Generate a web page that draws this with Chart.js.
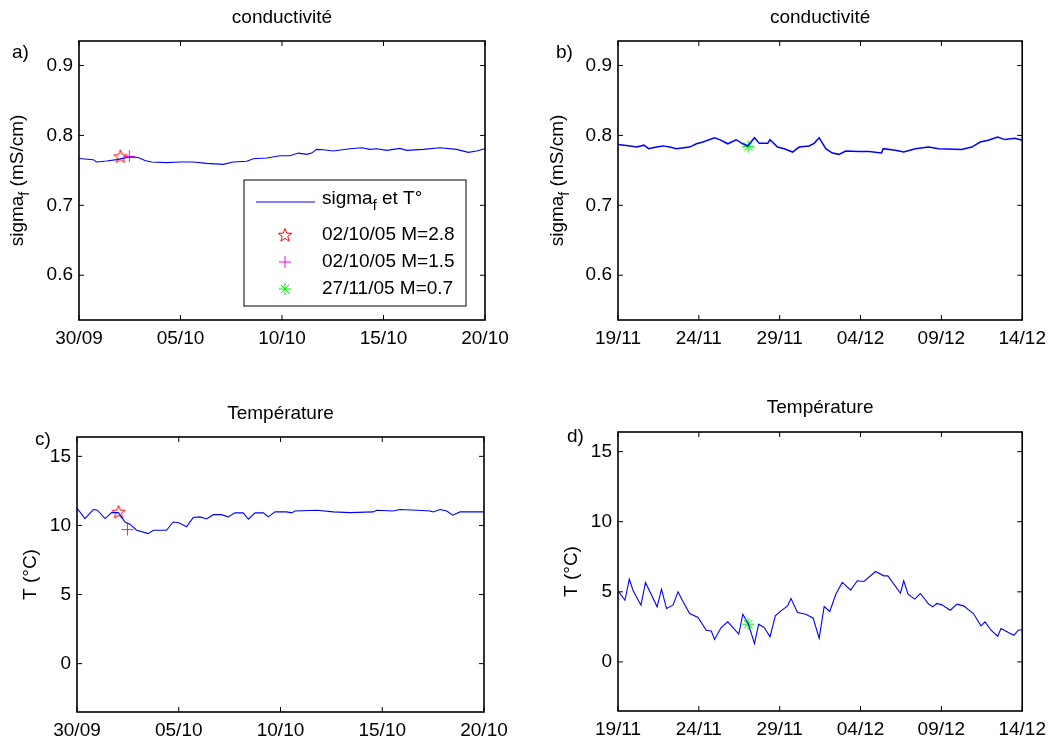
<!DOCTYPE html>
<html lang="fr">
<head>
<meta charset="UTF-8">
<title>conductivité et température</title>
<script src="https://cdn.jsdelivr.net/npm/chart.js"></script>
<style>
  body { margin: 0; background: #fff; }
  #wrap { position: relative; width: 1053px; height: 745px; }
  #wrap canvas { position: absolute; left: 0; top: 0; }
</style>
</head>
<body>
<div id="wrap">
  <canvas id="cA" width="1053" height="745"></canvas>
  <canvas id="cB" width="1053" height="745"></canvas>
  <canvas id="cC" width="1053" height="745"></canvas>
  <canvas id="cD" width="1053" height="745"></canvas>
</div>
<script>
// ---- data (x = days since first tick) ----
const octTickDays = [0, 5, 10, 15, 20];
const octTickLabels = ['30/09', '05/10', '10/10', '15/10', '20/10'];
const novTickDays = [0, 5, 10, 15, 20, 25];
const novTickLabels = ['19/11', '24/11', '29/11', '04/12', '09/12', '14/12'];
const condTicks = [0.6, 0.7, 0.8, 0.9];
const tempTicks = [0, 5, 10, 15];

const condOctDays = [0, 0.7, 0.87, 1.36, 1.86, 2.51, 2.92, 3.25, 3.58, 4.32, 4.98, 5.63, 6.29, 7.11, 7.6, 8.26, 8.59, 9.25, 9.9, 10.39, 10.8, 11.22, 11.46, 11.71, 12.04, 12.53, 13.35, 13.93, 14.33, 14.67, 15.16, 15.81, 16.14, 16.96, 17.78, 18.6, 19.18, 19.59, 20];
const condOct = [0.767, 0.7653, 0.762, 0.7633, 0.7653, 0.769, 0.7683, 0.764, 0.762, 0.761, 0.762, 0.762, 0.760, 0.7586, 0.762, 0.763, 0.7667, 0.7676, 0.771, 0.771, 0.7747, 0.7729, 0.7747, 0.780, 0.7795, 0.7776, 0.781, 0.7824, 0.780, 0.781, 0.7786, 0.7814, 0.7786, 0.780, 0.7824, 0.780, 0.7757, 0.7776, 0.781];

const tempOctDays = [0, 0.39, 0.8, 1.0, 1.38, 1.7, 2.03, 2.36, 2.6, 2.93, 3.5, 3.75, 4.4, 4.73, 5.0, 5.38, 5.71, 6.04, 6.37, 6.7, 7.1, 7.43, 7.76, 8.17, 8.42, 8.75, 9.16, 9.4, 9.73, 10.3, 10.55, 10.71, 11.78, 12.6, 13.4, 14.56, 14.72, 15.54, 15.87, 16.7, 17.35, 17.5, 17.84, 18.17, 18.46, 18.82, 20];
const tempOct = [11.26, 10.5, 11.15, 11.1, 10.5, 10.93, 10.93, 10.25, 10.09, 9.65, 9.41, 9.65, 9.65, 10.25, 10.2, 9.9, 10.57, 10.62, 10.47, 10.78, 10.78, 10.62, 10.91, 10.91, 10.45, 10.91, 10.91, 10.62, 10.98, 10.98, 10.91, 11.05, 11.1, 10.98, 10.93, 10.98, 11.1, 11.05, 11.15, 11.1, 11.05, 10.98, 11.15, 11.05, 10.74, 10.98, 10.98];

const condNovDays = [0, 0.74, 1.15, 1.6, 1.9, 2.38, 2.8, 3.2, 3.6, 4.43, 4.85, 5.25, 5.97, 6.28, 6.79, 7.31, 7.72, 8.02, 8.44, 8.74, 9.26, 9.4, 9.87, 10.28, 10.8, 11.2, 11.82, 12.13, 12.44, 12.85, 13.26, 13.67, 14.08, 14.9, 15.52, 16.3, 16.4, 17.16, 17.67, 18.39, 19.21, 19.83, 21.26, 21.88, 22.4, 22.9, 23.48, 23.93, 24.55, 25];
const condNov = [0.787, 0.7848, 0.7833, 0.786, 0.781, 0.7833, 0.785, 0.7833, 0.781, 0.7833, 0.788, 0.7905, 0.7967, 0.794, 0.788, 0.7938, 0.788, 0.7848, 0.7967, 0.7886, 0.7886, 0.794, 0.7833, 0.781, 0.7762, 0.7833, 0.7848, 0.7886, 0.7967, 0.781, 0.7748, 0.7729, 0.7776, 0.777, 0.777, 0.775, 0.781, 0.7786, 0.7762, 0.781, 0.7833, 0.781, 0.780, 0.7833, 0.7905, 0.793, 0.7976, 0.794, 0.796, 0.793];

const tempNovDays = [0, 0.43, 0.7, 0.94, 1.42, 1.7, 2.42, 2.69, 3.0, 3.4, 3.71, 4.02, 4.43, 4.95, 5.46, 5.77, 5.97, 6.38, 6.79, 7.47, 7.72, 8.07, 8.44, 8.7, 9.05, 9.4, 9.73, 10.08, 10.49, 10.7, 11.1, 11.62, 12.07, 12.44, 12.75, 13.1, 13.47, 13.87, 14.39, 14.8, 15.21, 15.93, 16.44, 16.69, 17.47, 17.67, 17.94, 18.35, 18.7, 19.21, 19.46, 19.72, 20.03, 20.55, 20.96, 21.37, 21.98, 22.45, 22.7, 23.07, 23.48, 23.69, 24.14, 24.49, 24.75, 25];
const tempNov = [5.07, 4.4, 5.9, 5.07, 4.05, 5.67, 3.93, 5.19, 3.81, 4.05, 5.0, 4.31, 3.45, 3.17, 2.26, 2.21, 1.6, 2.45, 2.86, 1.98, 3.4, 2.69, 1.31, 2.69, 2.45, 1.79, 3.29, 3.64, 4.0, 4.52, 3.52, 3.4, 3.12, 1.69, 3.95, 3.6, 4.83, 5.67, 5.12, 5.79, 5.74, 6.45, 6.14, 6.14, 4.9, 5.79, 4.83, 4.48, 4.88, 4.12, 3.93, 4.17, 4.07, 3.69, 4.12, 4.0, 3.45, 2.57, 2.86, 2.26, 1.83, 2.38, 2.1, 1.9, 2.26, 2.29];

// séismes: 02/10/05 M=2.8, 02/10/05 M=1.5, 27/11/05 M=0.7
const eventLabels = ['02/10/05 M=2.8', '02/10/05 M=1.5', '27/11/05 M=0.7'];
const eventDays = [2.04, 2.48, 8.05];
const eventCond = [0.770, 0.770, 0.784];
const eventTemp = [10.97, 9.70, 2.69];

// ---- styles ----
const FONT = "'Liberation Sans', Arial, Helvetica, sans-serif";
const FS = 19;
const BLUE = '#0000ff';
Chart.defaults.font.family = FONT;
Chart.defaults.font.size = FS;
Chart.defaults.color = '#000';
Chart.defaults.animation = false;

// red pentagram marker
function makePentagram() {
    const c = document.createElement('canvas');
    c.width = 16; c.height = 16;
    const g = c.getContext('2d');
    g.strokeStyle = '#ff0000';
    g.lineWidth = 1;
    g.beginPath();
    for (let i = 0; i < 10; i++) {
        const r = i % 2 === 0 ? 7 : 2.9;
        const a = -Math.PI / 2 + i * Math.PI / 5;
        const px = 8 + r * Math.cos(a), py = 8.5 + r * Math.sin(a);
        if (i === 0) g.moveTo(px, py); else g.lineTo(px, py);
    }
    g.closePath();
    g.stroke();
    return c;
}
const pentagram = makePentagram();

const markerStyles = [
    { pointStyle: pentagram, color: '#ff0000', radius: 7 },
    { pointStyle: 'cross', color: '#ff00ff', radius: 6 },
    { pointStyle: 'star', color: '#00ee00', radius: 6 }
];

function drawParts(ctx, x, y, parts) {
    let cx = x;
    parts.forEach(p => {
        ctx.font = (p.sub ? FS * 0.75 : FS) + 'px ' + FONT;
        ctx.fillText(p.t, cx, y + (p.sub ? 7 : 0));
        cx += ctx.measureText(p.t).width;
    });
    return cx - x;
}
function partsWidth(ctx, parts) {
    let w = 0;
    parts.forEach(p => {
        ctx.font = (p.sub ? FS * 0.75 : FS) + 'px ' + FONT;
        w += ctx.measureText(p.t).width;
    });
    return w;
}

function drawMarker(ctx, style, x, y) {
    ctx.save();
    ctx.strokeStyle = style.color;
    ctx.lineWidth = 1;
    if (style.pointStyle === pentagram) {
        ctx.drawImage(pentagram, x - 8, y - 8);
    } else {
        const r = style.radius;
        ctx.beginPath();
        ctx.moveTo(x - r, y); ctx.lineTo(x + r, y);
        ctx.moveTo(x, y - r); ctx.lineTo(x, y + r);
        if (style.pointStyle === 'star') {
            const d = r * 0.707;
            ctx.moveTo(x - d, y - d); ctx.lineTo(x + d, y + d);
            ctx.moveTo(x - d, y + d); ctx.lineTo(x + d, y - d);
        }
        ctx.stroke();
    }
    ctx.restore();
}

const sigmaParts = [{ t: 'sigma' }, { t: 'f', sub: true }, { t: ' (mS/cm)' }];
const tempParts = [{ t: 'T (°C)' }];

// box, inward ticks, panel letter, y title, legend
const matlabFrame = {
    id: 'matlabFrame',
    afterDraw(chart, args, opts) {
        const { ctx, chartArea: a, scales } = chart;
        ctx.save();
        ctx.strokeStyle = '#000';
        ctx.lineWidth = 1;
        scales.x.ticks.forEach(t => {
            const px = scales.x.getPixelForValue(t.value);
            ctx.beginPath();
            ctx.moveTo(px, a.bottom); ctx.lineTo(px, a.bottom - 5);
            ctx.moveTo(px, a.top); ctx.lineTo(px, a.top + 5);
            ctx.stroke();
        });
        scales.y.ticks.forEach(t => {
            const py = scales.y.getPixelForValue(t.value);
            ctx.beginPath();
            ctx.moveTo(a.left, py); ctx.lineTo(a.left + 5, py);
            ctx.moveTo(a.right, py); ctx.lineTo(a.right - 5, py);
            ctx.stroke();
        });
        ctx.lineWidth = 1.6;
        ctx.strokeRect(a.left, a.top, a.width, a.height);

        ctx.fillStyle = '#000';
        ctx.textBaseline = 'middle';
        ctx.textAlign = 'left';
        ctx.font = FS + 'px ' + FONT;
        ctx.fillText(opts.letter, opts.letterX, opts.letterY);

        // rotated y title
        ctx.save();
        ctx.translate(opts.yTitleX, (a.top + a.bottom) / 2);
        ctx.rotate(-Math.PI / 2);
        const w = partsWidth(ctx, opts.yTitle);
        drawParts(ctx, -w / 2, 0, opts.yTitle);
        ctx.restore();

        if (opts.legend) {
            const L = opts.legend;
            ctx.lineWidth = 1;
            ctx.strokeStyle = '#000';
            ctx.fillStyle = '#fff';
            ctx.fillRect(L.x, L.y, L.w, L.h);
            ctx.strokeRect(L.x, L.y, L.w, L.h);
            ctx.fillStyle = '#000';
            ctx.strokeStyle = BLUE;
            ctx.beginPath();
            ctx.moveTo(L.x + 12, L.y + 22); ctx.lineTo(L.x + 71, L.y + 22);
            ctx.stroke();
            drawParts(ctx, L.x + 78, L.y + 19, [{ t: 'sigma' }, { t: 'f', sub: true }, { t: ' et T°' }]);
            eventLabels.forEach((lab, i) => {
                const ry = L.y + 55 + i * 27;
                drawMarker(ctx, markerStyles[i], L.x + 41, ry);
                ctx.fillStyle = '#000';
                ctx.font = FS + 'px ' + FONT;
                ctx.fillText(lab, L.x + 78, ry);
            });
        }
        ctx.restore();
    }
};

function series(days, vals) {
    return days.map((d, i) => ({ x: d, y: vals[i] }));
}

function makePanel(canvasId, cfg) {
    const W = 1053, H = 745, yW = 70, xH = 40, titleH = FS * 1.2;
    const datasets = [{
        data: series(cfg.days, cfg.vals),
        showLine: true,
        borderColor: BLUE,
        borderWidth: cfg.lineWidth || 1.1,
        pointRadius: 0,
        tension: 0
    }];
    cfg.events.forEach(i => {
        const ms = markerStyles[i];
        datasets.push({
            data: [{ x: eventDays[i], y: cfg.eventVals[i] }],
            pointStyle: ms.pointStyle,
            pointRadius: ms.radius,
            borderColor: ms.color,
            backgroundColor: 'rgba(0,0,0,0)',
            borderWidth: 1
        });
    });
    return new Chart(document.getElementById(canvasId), {
        type: 'scatter',
        data: { datasets },
        options: {
            responsive: false,
            layout: {
                padding: {
                    left: cfg.area.left - yW,
                    right: W - cfg.area.right,
                    top: cfg.titleY - titleH / 2,
                    bottom: H - cfg.area.bottom - xH
                }
            },
            plugins: {
                legend: { display: false },
                tooltip: { enabled: false },
                title: {
                    display: true,
                    text: cfg.title,
                    fullSize: false,
                    font: { size: FS, weight: 'normal' },
                    padding: { top: 0, bottom: cfg.area.top - cfg.titleY - titleH / 2 }
                },
                matlabFrame: cfg.frame
            },
            scales: {
                x: {
                    type: 'linear',
                    min: cfg.xTicks[0],
                    max: cfg.xTicks[cfg.xTicks.length - 1],
                    afterBuildTicks: s => { s.ticks = cfg.xTicks.map(v => ({ value: v })); },
                    afterFit: s => { s.height = xH; },
                    grid: { display: false, drawTicks: false, tickLength: 0 },
                    border: { display: false },
                    ticks: {
                        padding: 7,
                        autoSkip: false,
                        maxRotation: 0,
                        callback: v => cfg.xLabels[cfg.xTicks.indexOf(v)]
                    }
                },
                y: {
                    type: 'linear',
                    min: cfg.yMin,
                    max: cfg.yMax,
                    afterBuildTicks: s => { s.ticks = cfg.yTicks.map(v => ({ value: v })); },
                    afterFit: s => { s.width = yW; },
                    grid: { display: false, drawTicks: false, tickLength: 0 },
                    border: { display: false },
                    ticks: {
                        padding: 6,
                        callback: v => cfg.yFmt(v)
                    }
                }
            }
        },
        plugins: [matlabFrame]
    });
}

makePanel('cA', {
    days: condOctDays, vals: condOct, events: [0, 1], eventVals: eventCond,
    xTicks: octTickDays, xLabels: octTickLabels,
    yMin: 0.536, yMax: 0.935, yTicks: condTicks, yFmt: v => v.toFixed(1),
    title: 'conductivité', titleY: 18,
    area: { left: 79, right: 485, top: 41, bottom: 320 },
    frame: { letter: 'a)', letterX: 12, letterY: 53, yTitle: sigmaParts, yTitleX: 18,
             legend: { x: 244, y: 180, w: 222, h: 126 } }
});
makePanel('cB', {
    days: condNovDays, vals: condNov, events: [2], eventVals: eventCond,
    xTicks: novTickDays, xLabels: novTickLabels, lineWidth: 1.5,
    yMin: 0.536, yMax: 0.935, yTicks: condTicks, yFmt: v => v.toFixed(1),
    title: 'conductivité', titleY: 18,
    area: { left: 618, right: 1024, top: 41, bottom: 320 },
    frame: { letter: 'b)', letterX: 556, letterY: 53, yTitle: sigmaParts, yTitleX: 558 }
});
makePanel('cC', {
    days: tempOctDays, vals: tempOct, events: [0, 1], eventVals: eventTemp,
    xTicks: octTickDays, xLabels: octTickLabels,
    yMin: -3.5, yMax: 16.4, yTicks: tempTicks, yFmt: v => String(v),
    title: 'Température', titleY: 414,
    area: { left: 77, right: 484, top: 437, bottom: 712 },
    frame: { letter: 'c)', letterX: 35, letterY: 440, yTitle: tempParts, yTitleX: 31 }
});
makePanel('cD', {
    days: tempNovDays, vals: tempNov, events: [2], eventVals: eventTemp,
    xTicks: novTickDays, xLabels: novTickLabels,
    yMin: -3.5, yMax: 16.4, yTicks: tempTicks, yFmt: v => String(v),
    title: 'Température', titleY: 408,
    area: { left: 618, right: 1024, top: 432, bottom: 711 },
    frame: { letter: 'd)', letterX: 567, letterY: 437, yTitle: tempParts, yTitleX: 572 }
});
</script>
</body>
</html>
